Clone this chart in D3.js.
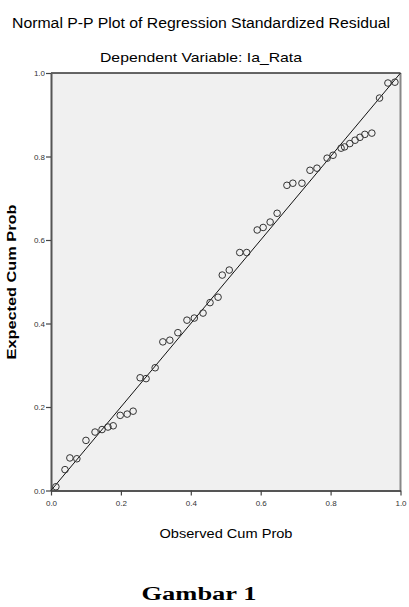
<!DOCTYPE html>
<html>
<head>
<meta charset="utf-8">
<script src="https://cdn.jsdelivr.net/npm/d3@7"></script>
<style>
  body { margin: 0; background: #fff; }
  svg { display: block; }
</style>
</head>
<body>
<div id="chart"></div>
<script>
// observed vs expected cumulative probability
const observed = [0.014, 0.04, 0.054, 0.074, 0.10, 0.126, 0.146, 0.163, 0.178, 0.198, 0.218, 0.235,
  0.255, 0.272, 0.298, 0.32, 0.34, 0.363, 0.389, 0.41, 0.435, 0.455, 0.478,
  0.49, 0.51, 0.54, 0.56, 0.59, 0.607, 0.627, 0.647,
  0.675, 0.692, 0.718, 0.741, 0.761, 0.79, 0.807, 0.83, 0.84,
  0.855, 0.87, 0.884, 0.898, 0.918, 0.94, 0.964, 0.984];
const expected = [0.009, 0.05, 0.078, 0.076, 0.12, 0.14, 0.146, 0.152, 0.155, 0.18, 0.183, 0.19,
  0.27, 0.268, 0.294, 0.356, 0.36, 0.378, 0.408, 0.413, 0.425, 0.45, 0.463,
  0.516, 0.528, 0.57, 0.57, 0.624, 0.63, 0.643, 0.664,
  0.731, 0.736, 0.736, 0.767, 0.772, 0.796, 0.803, 0.82, 0.823,
  0.831, 0.839, 0.846, 0.853, 0.856, 0.94, 0.976, 0.978];
const ticks = [0, 0.2, 0.4, 0.6, 0.8, 1.0];

const W = 409, H = 607;
const margin = {top: 73, right: 8.5, bottom: 116.5, left: 51};
const width = W - margin.left - margin.right;
const height = H - margin.top - margin.bottom;

const svg = d3.select("#chart").append("svg")
    .attr("width", W)
    .attr("height", H);

// titles
svg.append("text")
    .attr("x", 201).attr("y", 28)
    .attr("text-anchor", "middle")
    .attr("textLength", 378).attr("lengthAdjust", "spacingAndGlyphs")
    .style("font-family", "Liberation Sans, Arial, sans-serif")
    .style("font-size", "14px")
    .text("Normal P-P Plot of Regression Standardized Residual");

svg.append("text")
    .attr("x", 201).attr("y", 62)
    .attr("text-anchor", "middle")
    .attr("textLength", 202).attr("lengthAdjust", "spacingAndGlyphs")
    .style("font-family", "Liberation Sans, Arial, sans-serif")
    .style("font-size", "13px")
    .text("Dependent Variable: Ia_Rata");

const g = svg.append("g")
    .attr("transform", `translate(${margin.left},${margin.top})`);

const x = d3.scaleLinear().domain([0, 1]).range([0, width]);
const y = d3.scaleLinear().domain([0, 1]).range([height, 0]);

// plot background + frame
g.append("rect")
    .attr("width", width).attr("height", height)
    .attr("fill", "#f0f0f0");
g.append("line")
    .attr("x1", 0).attr("x2", width).attr("y1", 0).attr("y2", 0)
    .attr("stroke", "#333").attr("stroke-width", 1.5);
g.append("line")
    .attr("x1", width).attr("x2", width).attr("y1", 0).attr("y2", height)
    .attr("stroke", "#888").attr("stroke-width", 2);

// axes
const xAxis = g.append("g")
    .attr("transform", `translate(0,${height})`)
    .call(d3.axisBottom(x).tickValues(ticks).tickFormat(d3.format(".1f")).tickSize(5).tickSizeOuter(0));
const yAxis = g.append("g")
    .call(d3.axisLeft(y).tickValues(ticks).tickFormat(d3.format(".1f")).tickSize(5).tickSizeOuter(0));

[xAxis, yAxis].forEach(a => {
    a.select(".domain").attr("stroke", "#555").attr("stroke-width", 2);
    a.selectAll(".tick line").attr("stroke", "#444").attr("stroke-width", 1.2);
    a.selectAll(".tick text")
        .attr("fill", "#333")
        .style("font-family", "Liberation Sans, Arial, sans-serif")
        .style("font-size", "8px");
});
xAxis.selectAll(".tick text").attr("y", 10);
yAxis.selectAll(".tick text").attr("x", -6);

// reference diagonal
g.append("line")
    .attr("x1", x(0)).attr("y1", y(0))
    .attr("x2", x(1)).attr("y2", y(1))
    .attr("stroke", "#111").attr("stroke-width", 1);

// points
g.append("g").selectAll("circle")
    .data(observed.map((o, i) => ({o: o, e: expected[i]})))
    .enter()
    .append("circle")
    .attr("cx", d => x(d.o))
    .attr("cy", d => y(d.e))
    .attr("r", 3.3)
    .attr("fill", "none")
    .attr("stroke", "#333")
    .attr("stroke-width", 1);

// axis titles
svg.append("text")
    .attr("x", 226).attr("y", 538)
    .attr("text-anchor", "middle")
    .attr("textLength", 133).attr("lengthAdjust", "spacingAndGlyphs")
    .style("font-family", "Liberation Sans, Arial, sans-serif")
    .style("font-size", "12px")
    .text("Observed Cum Prob");

svg.append("text")
    .attr("transform", "translate(16,282) rotate(-90)")
    .attr("text-anchor", "middle")
    .attr("textLength", 155).attr("lengthAdjust", "spacingAndGlyphs")
    .style("font-family", "Liberation Sans, Arial, sans-serif")
    .style("font-size", "12px")
    .style("font-weight", "bold")
    .text("Expected Cum Prob");

// caption below the figure
svg.append("text")
    .attr("x", 199).attr("y", 600)
    .attr("text-anchor", "middle")
    .attr("textLength", 115).attr("lengthAdjust", "spacingAndGlyphs")
    .style("font-family", "Liberation Serif, serif")
    .style("font-size", "18px")
    .style("font-weight", "bold")
    .text("Gambar 1");
</script>
</body>
</html>
